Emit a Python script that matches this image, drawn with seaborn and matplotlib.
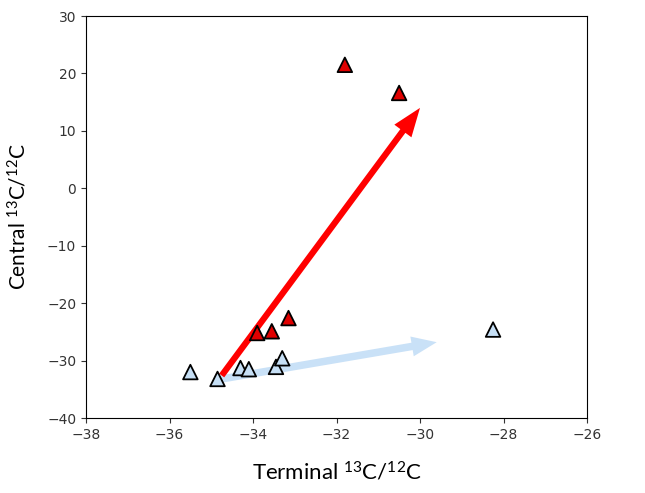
import matplotlib
matplotlib.use("Agg")
import matplotlib.pyplot as plt
import seaborn as sns
import pandas as pd

# Data
red_x = [-31.8, -30.5, -33.9, -33.55, -33.15]
red_y = [21.5, 16.6, -25.2, -24.9, -22.6]
blue_x = [-35.5, -34.85, -34.3, -34.1, -33.45, -33.3, -28.25]
blue_y = [-32.0, -33.2, -31.3, -31.5, -31.1, -29.6, -24.6]

red_arrow = [(-34.75, -32.6), (-30.0, 14.0)]
blue_arrow = [(-34.75, -33.2), (-29.6, -26.8)]

xticks = [-38, -36, -34, -32, -30, -28, -26]
yticks = [-40, -30, -20, -10, 0, 10, 20, 30]

df = pd.DataFrame({
    "x": red_x + blue_x,
    "y": red_y + blue_y,
    "group": ["red"] * len(red_x) + ["blue"] * len(blue_x),
})

plt.rcParams["mathtext.default"] = "regular"

fig = plt.figure(figsize=(6.45, 4.93), dpi=100)
ax = fig.add_axes([86 / 645, 1 - 418 / 493, (587 - 86) / 645, (418 - 16) / 493])

# arrows (behind markers)
ax.annotate("", xy=blue_arrow[1], xytext=blue_arrow[0],
            arrowprops=dict(arrowstyle="simple,head_length=1.0,head_width=0.8,tail_width=0.3",
                            color="#c9e1f7", lw=0, shrinkA=0, shrinkB=0,
                            mutation_scale=18), zorder=1)
ax.annotate("", xy=red_arrow[1], xytext=red_arrow[0],
            arrowprops=dict(arrowstyle="simple,head_length=1.15,head_width=0.85,tail_width=0.25",
                            color="#ff0000", lw=0, shrinkA=0, shrinkB=0,
                            mutation_scale=18), zorder=2)

sns.scatterplot(data=df, x="x", y="y", hue="group",
                palette={"red": "#e00000", "blue": "#c6dff5"},
                marker="^", s=110, edgecolor="black", linewidth=1.3,
                legend=False, ax=ax, zorder=3)

ax.set_xlim(-38, -26)
ax.set_ylim(-40, 30)
ax.set_xticks(xticks)
ax.set_yticks(yticks)
ax.tick_params(labelsize=10, colors="#333333", labelcolor="#333333")

ax.set_xlabel("Terminal $^{13}$C/$^{12}$C", fontsize=16, family="Lato", labelpad=14)
ax.set_ylabel("Central $^{13}$C/$^{12}$C", fontsize=15, family="Lato", labelpad=12)

fig.savefig("out.png", dpi=100)
